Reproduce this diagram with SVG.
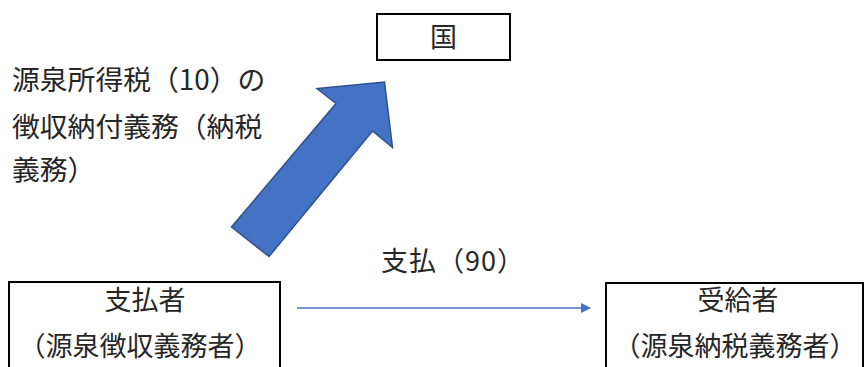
<svg xmlns="http://www.w3.org/2000/svg" width="867" height="367" viewBox="0 0 867 367">
<defs>
<style>
.t{font-family:"Noto Sans CJK JP","Noto Sans CJK SC",sans-serif;font-size:27px;fill:#262626;}
.l{font-size:27.8px;}
.box{fill:#ffffff;stroke:#000000;stroke-width:2;}
</style>
<marker id="ah" markerWidth="10" markerHeight="10" refX="9" refY="5" orient="auto" markerUnits="userSpaceOnUse">
<path d="M0,0 L10,5 L0,10 Z" fill="#4472C4"/>
</marker>
</defs>
<rect width="867" height="367" fill="#ffffff"/>
<g id="kuni">
<rect class="box" x="377" y="14" width="133" height="46"/>
<text class="t" x="443.5" y="47" text-anchor="middle">国</text>
</g>
<g id="label-tax">
<text class="t l" x="12" y="90">源泉所得税（10）の</text>
<text class="t l" x="12" y="137">徴収納付義務（納税</text>
<text class="t l" x="12" y="180">義務）</text>
</g>
<g id="payer">
<rect class="box" x="9" y="282" width="271" height="100"/>
<text class="t" x="145" y="310" text-anchor="middle">支払者</text>
<text class="t" x="140" y="356" text-anchor="middle">（源泉徴収義務者）</text>
</g>
<g id="payee">
<rect class="box" x="606" y="283" width="257" height="100"/>
<text class="t" x="738" y="310" text-anchor="middle">受給者</text>
<text class="t" x="735" y="356" text-anchor="middle">（源泉納税義務者）</text>
</g>
<g id="connectors">
<path d="M231.5,227 L269,256.5 L372.5,131 L392.5,147.5 L384.5,82 L317,88.5 L336,103.5 Z" fill="#4472C4" stroke="#2F528F" stroke-width="1.5"/>
<line x1="297" y1="308" x2="590" y2="308" stroke="#4472C4" stroke-width="1.5" marker-end="url(#ah)"/>
<text class="t" x="381" y="271" textLength="143" lengthAdjust="spacing">支払（90）</text>
</g>
</svg>
